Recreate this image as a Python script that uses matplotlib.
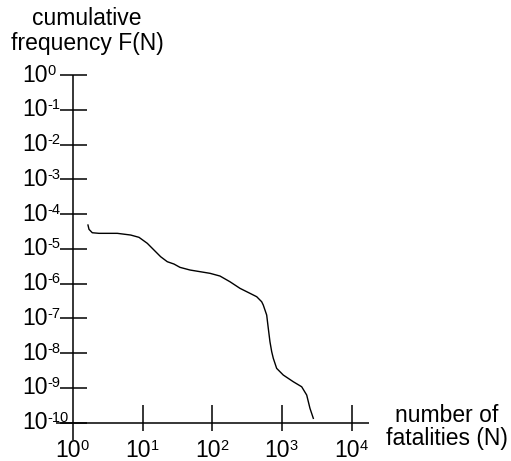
import matplotlib
matplotlib.use("Agg")
import matplotlib.pyplot as plt
import numpy as np

plt.rcParams["font.family"] = ["Liberation Sans", "DejaVu Sans"]

# curve, as log10 values
log_n = [0.215, 0.230, 0.277, 0.373, 0.636, 0.828, 0.947, 1.066, 1.162, 1.258,
         1.353, 1.449, 1.535, 1.679, 1.966, 2.109, 2.252, 2.396, 2.539, 2.636,
         2.707, 2.730, 2.779, 2.802, 2.826, 2.851, 2.874, 2.922, 3.017, 3.161,
         3.281, 3.353, 3.400, 3.448]
log_f = [-4.314, -4.438, -4.536, -4.553, -4.553, -4.602, -4.668, -4.840, -5.033, -5.226,
         -5.369, -5.436, -5.531, -5.608, -5.703, -5.781, -5.945, -6.135, -6.278, -6.376,
         -6.520, -6.615, -6.903, -7.285, -7.671, -7.958, -8.148, -8.436, -8.628, -8.821,
         -8.965, -9.203, -9.586, -9.873]

x_exps = [0, 1, 2, 3, 4]
y_exps = [0, -1, -2, -3, -4, -5, -6, -7, -8, -9, -10]

x_label = "number of\nfatalities (N)"
y_label = "cumulative\nfrequency F(N)"

fig = plt.figure(figsize=(5.11, 4.61), dpi=100)
ax = fig.add_axes([0, 0, 1, 1])
ax.set_xscale("log")
ax.set_yscale("log")
ax.set_xlim(10 ** -1.047, 10 ** 6.284)
ax.set_ylim(10 ** -11.10, 10 ** 2.157)
ax.axis("off")

lw = 1.1
# axes lines
ax.plot([1, 1], [1, 10 ** -10.5], color="black", lw=lw, solid_capstyle="butt")
ax.plot([10 ** -0.244, 10 ** 4.247], [1e-10, 1e-10], color="black", lw=lw,
        solid_capstyle="butt")

# y ticks
for e in y_exps:
    ax.plot([10 ** -0.187, 10 ** 0.201], [10.0 ** e, 10.0 ** e], color="black", lw=lw,
            solid_capstyle="butt")
    t = ax.text(10 ** -0.732, 10.0 ** e, "10", ha="left", va="center", fontsize=16.5)
    ax.annotate(str(e), xy=(1, 1), xycoords=t, ha="left", va="top", fontsize=10.5)

# x ticks
for e in x_exps:
    if e > 0:
        ax.plot([10.0 ** e, 10.0 ** e], [10 ** -9.49, 10 ** -10.24], color="black", lw=lw,
                solid_capstyle="butt")
    t = ax.text(10.0 ** e * 10 ** -0.07, 10 ** -10.79, "10", ha="center", va="center",
                fontsize=16.5)
    ax.annotate(str(e), xy=(1, 1), xycoords=t, ha="left", va="top", fontsize=10.5)

# curve
ax.plot(10 ** np.array(log_n), 10 ** np.array(log_f), color="black", lw=1.0,
        solid_joinstyle="round")

ax.text(10 ** 0.2, 10 ** 1.27, y_label, ha="center", va="center", fontsize=16.5,
        linespacing=1.1, multialignment="center")
ax.text(10 ** ((447 - 73) / 69.7), 10 ** (-(427 - 75) / 34.77), x_label, ha="center",
        va="center", fontsize=16.5, linespacing=1.0, multialignment="center")

fig.savefig("out.png", dpi=100)
